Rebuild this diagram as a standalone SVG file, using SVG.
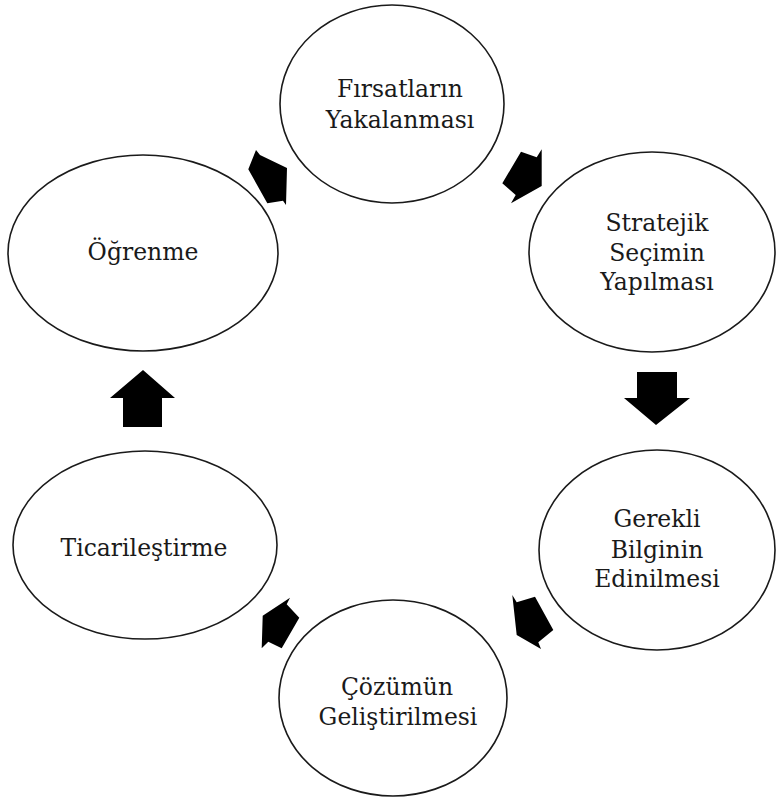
<svg xmlns="http://www.w3.org/2000/svg" width="776" height="799" viewBox="0 0 776 799">
<style>
.node ellipse{fill:#fff;stroke:#1a1a1a;stroke-width:1.6}
.node text{font-family:"DejaVu Serif","Liberation Serif",serif;font-size:23.5px;fill:#1a1a1a;text-anchor:middle}
.arr{fill:#000}
</style>
<rect width="776" height="799" fill="#fff"/>
<g id="n-firsat" class="node">
<ellipse cx="392" cy="104" rx="112" ry="99"/>
<text x="400" y="97">Fırsatların</text>
<text x="400" y="128">Yakalanması</text>
</g>
<g id="n-stratejik" class="node">
<ellipse cx="652" cy="252" rx="123" ry="100"/>
<text x="657" y="231">Stratejik</text>
<text x="657" y="261">Seçimin</text>
<text x="657" y="290">Yapılması</text>
</g>
<g id="n-ogrenme" class="node">
<ellipse cx="143" cy="253" rx="135" ry="98"/>
<text x="143" y="260">Öğrenme</text>
</g>
<g id="n-gerekli" class="node">
<ellipse cx="657" cy="550" rx="118" ry="100"/>
<text x="657" y="527">Gerekli</text>
<text x="657" y="558">Bilginin</text>
<text x="657" y="587">Edinilmesi</text>
</g>
<g id="n-ticari" class="node">
<ellipse cx="145" cy="545" rx="132" ry="94"/>
<text x="144" y="556">Ticarileştirme</text>
</g>
<g id="n-cozum" class="node">
<ellipse cx="393" cy="698" rx="114" ry="98"/>
<text x="397" y="695">Çözümün</text>
<text x="398" y="725">Geliştirilmesi</text>
</g>
<g id="connectors">
<polygon class="arr" points="256,150 260,155 287,168 286,205 283,200.7 267.3,203.3 248.3,169.3"/>
<polygon class="arr" points="541.7,149.3 541.7,186 511,203.3 515.7,195 502.3,183.3 521,151.7 536.7,157.3"/>
<polygon class="arr" points="637,372 677,372 677,398 690,398 656,425 624,398 637,398"/>
<polygon class="arr" points="512.3,595 516.7,602.3 535,596.7 553.3,630 538.3,642.3 541,649 516.7,635"/>
<polygon class="arr" points="290,597.7 286.7,604.3 299.3,617.7 281.7,648.3 268.3,641.7 261.7,648.3 262.7,615.7"/>
<polygon class="arr" points="143,370 175,398 162,398 162,427 123,427 123,398 110,398"/>
</g>
</svg>
